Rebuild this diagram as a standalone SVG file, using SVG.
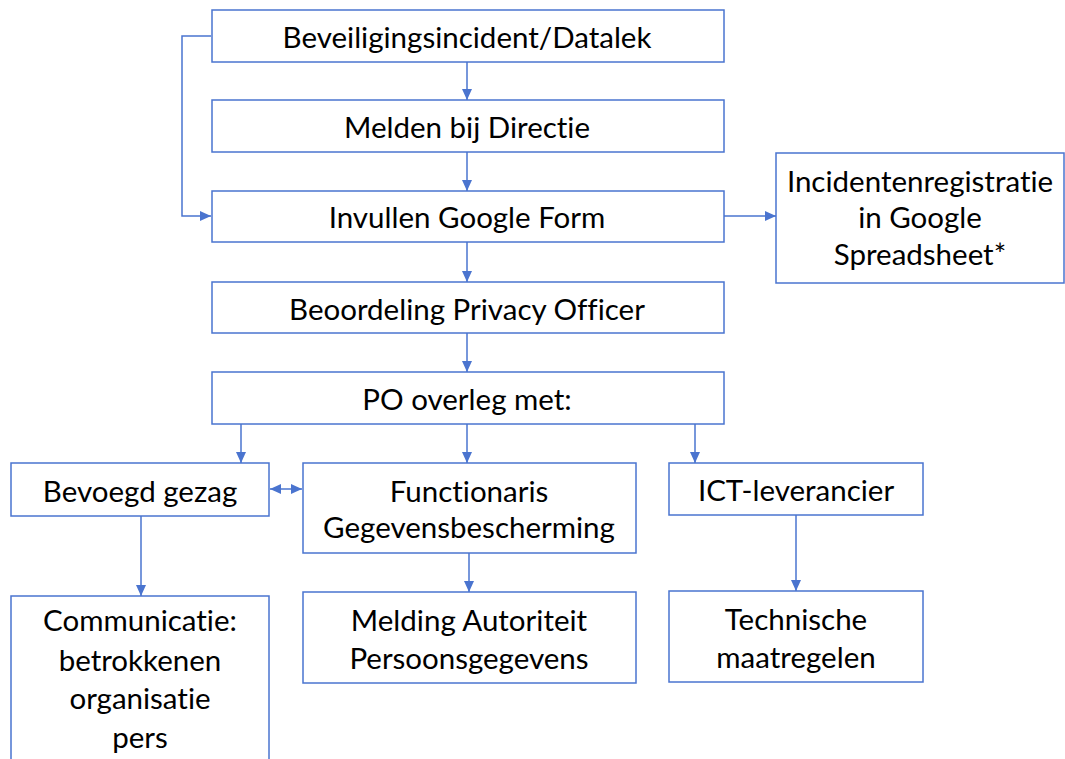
<svg xmlns="http://www.w3.org/2000/svg" width="1065" height="759" viewBox="0 0 1065 759">
<style>
.box{fill:#fff;stroke:#4a74cf;stroke-width:1.5}
.t{font-family:Lato,"Open Sans","Liberation Sans",sans-serif;font-size:29.5px;fill:#000;text-anchor:middle;dominant-baseline:central;font-variant-ligatures:none}
.c{fill:none;stroke:#4a74cf;stroke-width:1.5}
</style>
<defs>
<marker id="ah" markerUnits="userSpaceOnUse" markerWidth="12" markerHeight="10" refX="11" refY="5" orient="auto-start-reverse">
<path d="M0,0 L11,5 L0,10 Z" fill="#4a74cf"/>
</marker>
</defs>
<rect width="1065" height="759" fill="#fff"/>
<g id="connectors">
<line class="c" x1="467" y1="62" x2="467" y2="100" marker-end="url(#ah)"/>
<line class="c" x1="467" y1="152" x2="467" y2="191" marker-end="url(#ah)"/>
<line class="c" x1="467" y1="242" x2="467" y2="282" marker-end="url(#ah)"/>
<line class="c" x1="467" y1="333" x2="467" y2="372" marker-end="url(#ah)"/>
<polyline class="c" points="211,36 182,36 182,216 211,216" marker-end="url(#ah)"/>
<line class="c" x1="724" y1="216" x2="776" y2="216" marker-end="url(#ah)"/>
<line class="c" x1="241" y1="424" x2="241" y2="463" marker-end="url(#ah)"/>
<line class="c" x1="467" y1="424" x2="467" y2="463" marker-end="url(#ah)"/>
<line class="c" x1="695" y1="424" x2="695" y2="463" marker-end="url(#ah)"/>
<line class="c" x1="270" y1="489" x2="302" y2="489" marker-start="url(#ah)" marker-end="url(#ah)"/>
<line class="c" x1="141" y1="516" x2="141" y2="596" marker-end="url(#ah)"/>
<line class="c" x1="469" y1="553" x2="469" y2="592" marker-end="url(#ah)"/>
<line class="c" x1="796" y1="515" x2="796" y2="591" marker-end="url(#ah)"/>
</g>
<g id="n1"><rect class="box" x="212" y="10" width="512" height="52"/><text class="t" x="467" y="36">Beveiligingsincident/Datalek</text></g>
<g id="n2"><rect class="box" x="212" y="100" width="512" height="52"/><text class="t" x="467" y="126">Melden bij Directie</text></g>
<g id="n3"><rect class="box" x="212" y="191" width="512" height="51"/><text class="t" x="467" y="216">Invullen Google Form</text></g>
<g id="n4"><rect class="box" x="776" y="153" width="288" height="130"/><text class="t" x="920" y="180">Incidentenregistratie</text><text class="t" x="920" y="216">in Google</text><text class="t" x="920" y="253">Spreadsheet*</text></g>
<g id="n5"><rect class="box" x="212" y="282" width="512" height="51"/><text class="t" x="467" y="308">Beoordeling Privacy Officer</text></g>
<g id="n6"><rect class="box" x="212" y="372" width="512" height="52"/><text class="t" x="467" y="398">PO overleg met:</text></g>
<g id="n7"><rect class="box" x="11" y="463" width="258" height="53"/><text class="t" x="140" y="490">Bevoegd gezag</text></g>
<g id="n8"><rect class="box" x="303" y="463" width="333" height="90"/><text class="t" x="469" y="490">Functionaris</text><text class="t" x="469" y="526">Gegevensbescherming</text></g>
<g id="n9"><rect class="box" x="669" y="463" width="254" height="52"/><text class="t" x="796" y="489">ICT-leverancier</text></g>
<g id="n10"><rect class="box" x="11" y="596" width="258" height="175"/><text class="t" x="140" y="619">Communicatie:</text><text class="t" x="140" y="659">betrokkenen</text><text class="t" x="140" y="697">organisatie</text><text class="t" x="140" y="736">pers</text></g>
<g id="n11"><rect class="box" x="303" y="592" width="333" height="91"/><text class="t" x="469" y="619">Melding Autoriteit</text><text class="t" x="469" y="657">Persoonsgegevens</text></g>
<g id="n12"><rect class="box" x="669" y="591" width="254" height="91"/><text class="t" x="796" y="618">Technische</text><text class="t" x="796" y="656">maatregelen</text></g>
</svg>
